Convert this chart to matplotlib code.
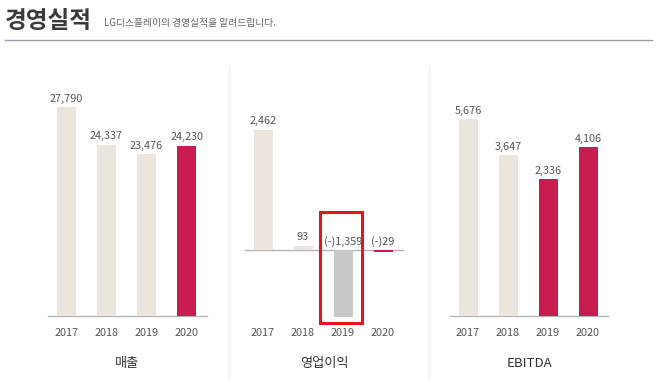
import matplotlib.pyplot as plt
from matplotlib.patches import Rectangle
from matplotlib.lines import Line2D

plt.rcParams['font.family'] = ['Noto Sans CJK KR', 'DejaVu Sans']

years = ["2017", "2018", "2019", "2020"]
sales = [27790, 24337, 23476, 24230]
op_profit = [2462, 93, -1359, -29]
ebitda = [5676, 3647, 2336, 4106]

BEIGE = "#ece5de"
RED = "#c81b50"
GREY = "#c8c8c8"
TXT = "#555555"
LINE = "#b4b4bc"

W, H = 659, 382
fig = plt.figure(figsize=(W / 100, H / 100), dpi=100)


def rect(x0, x1, ytop=100, ybot=316):
    return [x0 / W, 1 - ybot / H, (x1 - x0) / W, (ybot - ytop) / H]


def fmt(v):
    return "(-)" + format(-v, ",") if v < 0 else format(v, ",")


def panel(r, vals, colors, base, ylim, title):
    ax = fig.add_axes(r)
    x = range(len(vals))
    ax.bar(x, [v - base for v in vals], bottom=base, width=0.475,
           color=colors, clip_on=False, zorder=2)
    for i, v in enumerate(vals):
        ax.annotate(fmt(v), (i, max(v, 0)), xytext=(0, 2.5),
                    textcoords="offset points", ha="center", va="bottom",
                    fontsize=7.8, color=TXT)
    ax.axhline(0 if min(vals) < 0 else base, color=LINE, lw=1.0,
               zorder=1, clip_on=False)
    ax.set_xlim(-0.45, 3.5)
    ax.set_ylim(*ylim)
    ax.set_xticks(list(x))
    ax.set_xticklabels(years, fontsize=7.8, color=TXT)
    ax.tick_params(length=0, pad=9)
    ax.set_yticks([])
    for s in ax.spines.values():
        s.set_visible(False)
    ax.set_xlabel(title, fontsize=9.5, color="#333333", labelpad=13)
    return ax


panel(rect(48, 207), sales, [BEIGE, BEIGE, BEIGE, RED], 8607,
      (8607, 28433), "매출")

# operating profit: zero line sits at y=250.5 px, 0.0491 px per unit
ax2 = panel(rect(245, 403), op_profit, [BEIGE, BEIGE, GREY, RED], 0,
            (-1334, 3065), "영업이익")
ax2.add_patch(Rectangle((2 - 0.575, -1477), 1.05, 784 + 1477, fill=False,
                        edgecolor="#e8141c", lw=2.2, clip_on=False, zorder=5))

panel(rect(450, 608), ebitda, [BEIGE, BEIGE, RED, RED], -5290,
      (-5290, 6734), "EBITDA")

# panel separators
for xs in (229, 429):
    fig.add_artist(Line2D([xs / W, xs / W], [1 - 66 / H, 1 - 378 / H],
                          color="#f0f0f0", lw=1))

# header
fig.text(5 / W, 1 - 21 / H, "경영실적", fontsize=17, fontweight="bold",
         color="#3a3a3a", va="center")
fig.text(104 / W, 1 - 23 / H, "LG디스플레이의 경영실적을 알려드립니다.",
         fontsize=7, color="#666666", va="center")
fig.add_artist(Line2D([5 / W, 652 / W], [1 - 40 / H, 1 - 40 / H],
                      color="#9e9cb4", lw=1))

fig.savefig("out.png", dpi=100)
